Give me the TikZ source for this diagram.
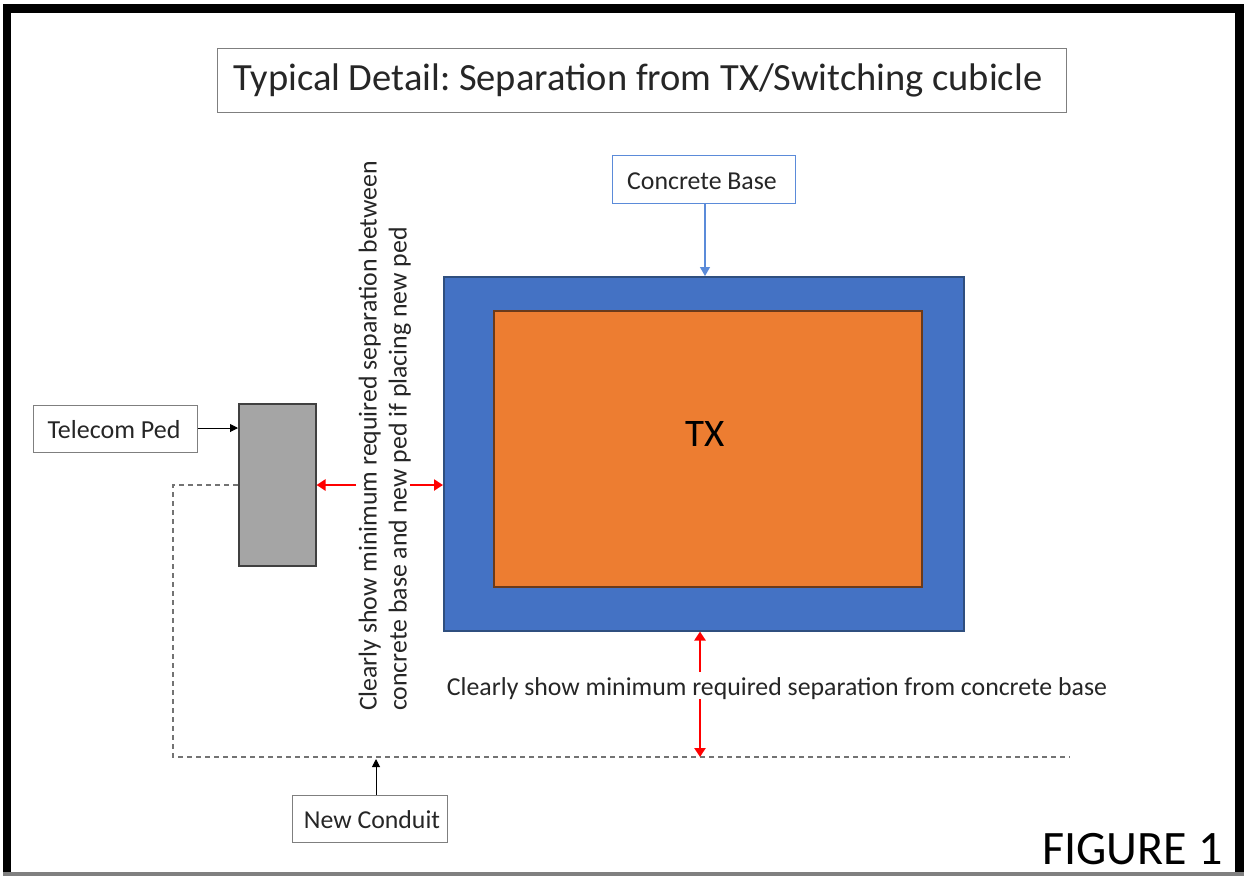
\documentclass[tikz,border=0pt]{standalone}
\usepackage{fontspec}
\setmainfont{Carlito}
\usetikzlibrary{arrows.meta}
\definecolor{cbase}{HTML}{4472C4}
\definecolor{cbaseedge}{HTML}{2F4F7F}
\definecolor{ctx}{HTML}{ED7D31}
\definecolor{ctxedge}{HTML}{6B3A1A}
\definecolor{cped}{HTML}{A5A5A5}
\definecolor{ctext}{HTML}{262626}
\definecolor{cboxedge}{HTML}{7F7F7F}
\definecolor{cred}{HTML}{FF0000}
\definecolor{clblue}{HTML}{5B8BD9}
\tikzset{
  labelbox/.style={draw=cboxedge, line width=1.2pt, fill=white, text=ctext, inner sep=0pt, anchor=north west},
  redarrow/.style={draw=cred, line width=2.6pt, -{Triangle[length=9pt,width=11pt]}},
  blackarrow/.style={draw=black, line width=1pt, -{Triangle[length=8pt,width=8pt]}},
  conduit/.style={draw=gray!90!black, line width=1.2pt, dash pattern=on 5pt off 4pt},
}
\frenchspacing
\begin{document}
\begin{tikzpicture}[x=1pt,y=-1pt]
\useasboundingbox (0,0) rectangle (1244,876);
\fill[white] (0,0) rectangle (1244,876);
% frame
\fill[black] (3,4) rectangle (1244,13);
\fill[black] (3,4) rectangle (11,873);
\fill[black] (1235,4) rectangle (1244,873);
\fill[gray] (3,872) rectangle (1244,876);
% title
\node[labelbox, minimum width=849pt, minimum height=64pt] (title) at (217,48) {};
\node[font=\fontsize{38.5}{42}\selectfont, text=ctext] (titletxt) at (638,80) {Typical Detail: Separation from TX/Switching cubicle};
% concrete base label
\node[labelbox, draw=clblue, minimum width=183pt, minimum height=48pt] (cbl) at (612,155) {};
\node[font=\fontsize{25.8}{28}\selectfont, text=ctext] (cbltxt) at (702,181) {Concrete Base};
% base and tx
\node[draw=cbaseedge, line width=1.5pt, fill=cbase, minimum width=520pt, minimum height=354pt, anchor=north west, inner sep=0pt] (base) at (443,276) {};
\node[draw=ctxedge, line width=1.5pt, fill=ctx, minimum width=428pt, minimum height=276pt, anchor=north west, inner sep=0pt] (tx) at (493,310) {};
\node[font=\fontsize{39}{42}\selectfont, text=black] (txtxt) at (705,434) {TX};
\draw[draw=clblue, line width=1.2pt, -{Triangle[length=9pt,width=10pt]}] (cbl.south -| 705,0) -- (base.north -| 705,0);
% ped
\node[draw=black!75, line width=1.5pt, fill=cped, minimum width=77pt, minimum height=162pt, anchor=north west, inner sep=0pt] (ped) at (238,403) {};
\node[labelbox, minimum width=164pt, minimum height=47pt] (tpl) at (33,405) {};
\node[font=\fontsize{26}{28}\selectfont, text=ctext] (tpltxt) at (114,430) {Telecom Ped};
\draw[blackarrow] (tpl.east |- 0,428) -- (ped.west |- 0,428);
% conduit
\coordinate (c1) at (173,485);
\coordinate (c2) at (173,757);
\coordinate (c3) at (1070,757);
\draw[conduit] (ped.west |- c1) -- (c1) -- (c2) -- (c3);
\node[labelbox, minimum width=155pt, minimum height=47pt] (ncl) at (292,795) {};
\node[font=\fontsize{25.8}{28}\selectfont, text=ctext] (ncltxt) at (372,820) {New Conduit};
\draw[blackarrow] (ncl.north -| 376,0) -- (376,759);
% rotated label
\node[rotate=90, font=\fontsize{25.8}{30}\selectfont, text=ctext, align=left] (sidelbl) at (385,436) {Clearly show minimum required separation between\\concrete base and new ped if placing new ped};
\coordinate (r1) at (356,485);
\coordinate (r2) at (410,485);
\draw[redarrow] (r1) -- (ped.east |- r1);
\draw[redarrow] (r2) -- (base.west |- r2);
% bottom label
\node[font=\fontsize{25.8}{28}\selectfont, text=ctext] (botlbl) at (777,689) {Clearly show minimum required separation from concrete base};
\coordinate (v1) at (700,672);
\coordinate (v2) at (700,699);
\draw[redarrow] (v1) -- (base.south -| v1);
\draw[redarrow] (v2) -- (700,757);
% figure label
\node[font=\fontsize{48}{50}\selectfont, text=black, anchor=east] (fig) at (1226,849) {FIGURE 1};
\end{tikzpicture}
\end{document}
